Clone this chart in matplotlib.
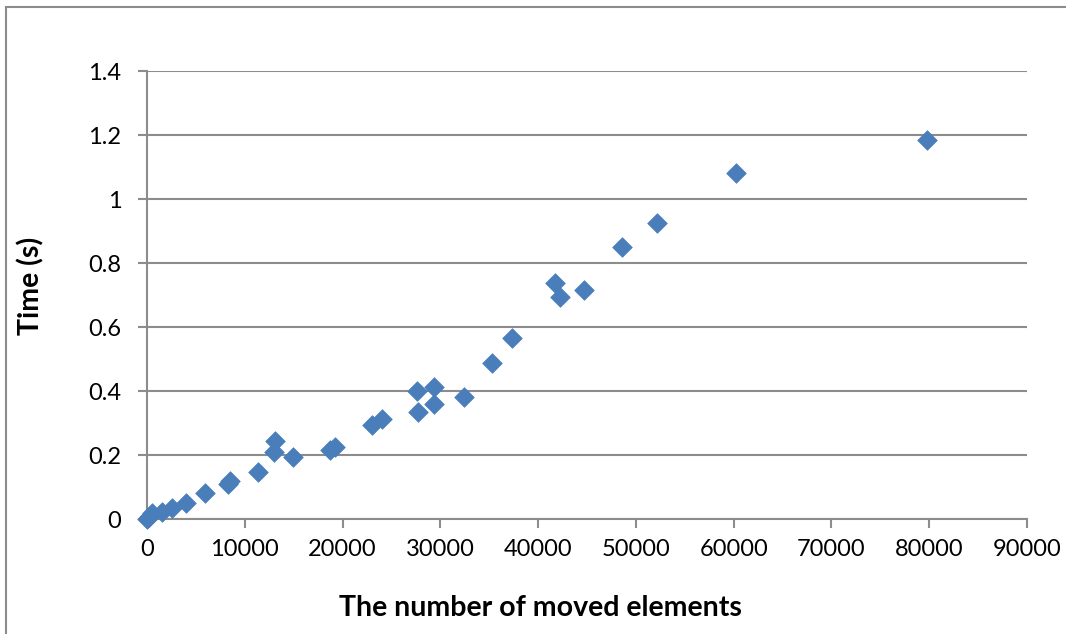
import matplotlib.pyplot as plt
from matplotlib.patches import Rectangle
from matplotlib.ticker import FuncFormatter

# moved elements vs time (s)
moved = [0, 200, 480, 1500, 2530, 3990, 5930, 8300, 8500, 11380, 12990, 13090,
         14900, 18720, 19230, 22980, 24000, 27650, 27680, 29390, 29390, 32450,
         35320, 37370, 41730, 42240, 44690, 48610, 52190, 60240, 79750]
time_s = [0.0, 0.006, 0.018, 0.023, 0.033, 0.051, 0.08, 0.108, 0.118, 0.146, 0.21, 0.245,
          0.193, 0.216, 0.224, 0.294, 0.314, 0.401, 0.335, 0.413, 0.359, 0.38,
          0.487, 0.567, 0.737, 0.695, 0.716, 0.851, 0.924, 1.08, 1.184]

x_ticks = list(range(0, 90001, 10000))
y_ticks = [0, 0.2, 0.4, 0.6, 0.8, 1.0, 1.2, 1.4]

plt.rcParams['font.family'] = ['Lato', 'DejaVu Sans']

fig = plt.figure(figsize=(10.66, 6.34), dpi=100)
ax = fig.add_axes([147 / 1066, 1 - 519 / 634, 880 / 1066, 448 / 634])

# outer chart border (only left and top visible in the crop)
fig.patches.append(Rectangle((6 / 1066, -0.1), 1.2, 1 - 7 / 634 + 0.1,
                             transform=fig.transFigure, fill=False,
                             edgecolor='#8c8c8c', linewidth=1.5))

ax.scatter(moved, time_s, marker='D', s=100, color='#4a7ebb',
           edgecolors='#4a7ebb', linewidths=0.5, zorder=3, clip_on=False)

ax.set_xlim(0, 90000)
ax.set_ylim(0, 1.4)
ax.set_xticks(x_ticks)
ax.set_yticks(y_ticks)
ax.yaxis.set_major_formatter(FuncFormatter(lambda v, p: f'{v:g}'))

ax.grid(axis='y', color='#8c8c8c', linewidth=1.5)
ax.set_axisbelow(True)
for side in ['top', 'right']:
    ax.spines[side].set_visible(False)
for side in ['left', 'bottom']:
    ax.spines[side].set_color('#8c8c8c')
    ax.spines[side].set_linewidth(1.5)

ax.tick_params(axis='both', colors='#8c8c8c', labelcolor='black',
               labelsize=17, length=6.5, width=1.5, direction='out')
ax.tick_params(axis='x', pad=8)
ax.tick_params(axis='y', pad=12)

ax.set_xlabel('The number of moved elements', fontsize=20.5, fontweight='bold')
ax.xaxis.set_label_coords(0.447, -0.17)
ax.set_ylabel('Time (s)', fontsize=20.5, fontweight='bold')
ax.yaxis.set_label_coords(-0.117, 0.52)

fig.savefig('out.png', dpi=100)
